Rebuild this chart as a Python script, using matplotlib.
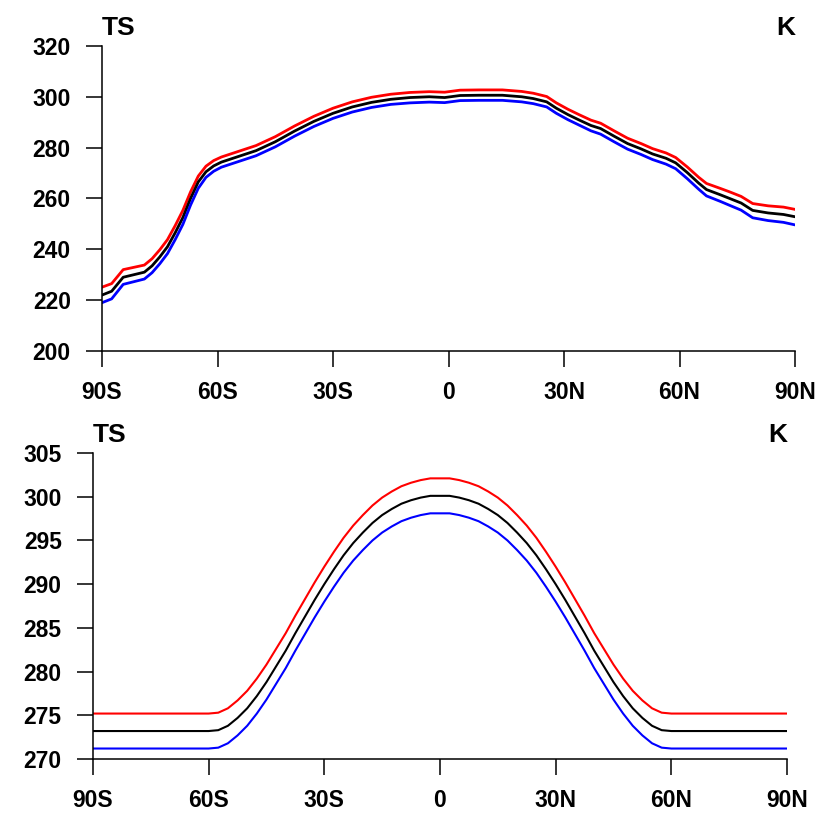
import matplotlib
matplotlib.use("Agg")
import matplotlib.pyplot as plt

plt.rcParams["font.family"] = ["Liberation Sans", "DejaVu Sans"]
plt.rcParams["font.weight"] = "bold"

# top panel: zonal mean surface temperature (K)
lat_top = [-90, -87.5, -84.5, -79, -77, -75, -73, -71, -69, -67, -65, -63, -61,
           -59, -55, -50, -45, -40, -35, -30, -25, -20, -15, -10, -5, -1, 3, 8,
           14, 19, 22, 25.5, 28, 31, 34, 37, 39.5, 43, 46.5, 50, 53, 56.5, 59,
           62, 65, 67, 70.5, 73, 76, 79, 83, 87, 90]
ts_mid_top = [222.0, 223.5, 229.0, 231.0, 233.5, 237.0, 241.0, 246.5, 252.5,
              260.0, 266.5, 270.5, 272.8, 274.3, 276.3, 278.8, 282.3, 286.5,
              290.3, 293.5, 296.0, 297.8, 299.0, 299.7, 300.0, 299.7, 300.5,
              300.6, 300.6, 300.0, 299.3, 298.0, 295.5, 293.0, 290.8, 288.7,
              287.5, 284.5, 281.6, 279.5, 277.5, 275.8, 274.0, 270.2, 266.0,
              263.5, 261.5, 260.0, 258.2, 255.3, 254.3, 253.7, 252.8]
ts_hi_top = [225.1, 226.5, 232.0, 233.8, 236.3, 239.8, 243.8, 249.3, 255.3,
             262.6, 268.8, 272.7, 274.9, 276.3, 278.3, 280.8, 284.3, 288.5,
             292.3, 295.5, 298.0, 299.8, 301.0, 301.7, 302.0, 301.8, 302.6,
             302.7, 302.7, 302.1, 301.4, 300.1, 297.6, 295.1, 292.9, 290.8,
             289.6, 286.6, 283.7, 281.6, 279.6, 277.9, 276.1, 272.4, 268.3,
             265.9, 264.0, 262.6, 260.8, 258.0, 257.1, 256.6, 255.7]
ts_lo_top = [219.0, 220.5, 226.2, 228.3, 230.8, 234.3, 238.3, 243.8, 249.8,
             257.4, 264.0, 268.3, 270.7, 272.3, 274.3, 276.8, 280.3, 284.5,
             288.3, 291.5, 294.0, 295.8, 297.0, 297.6, 297.9, 297.7, 298.5,
             298.6, 298.6, 298.0, 297.3, 296.0, 293.5, 291.0, 288.8, 286.6,
             285.3, 282.3, 279.4, 277.3, 275.3, 273.5, 271.7, 267.8, 263.6,
             261.0, 258.9, 257.3, 255.4, 252.4, 251.3, 250.6, 249.6]

# bottom panel: prescribed SST profile (K), every 2.5 degrees
lat_bot = [-90 + 2.5 * i for i in range(73)]
ts_mid_bot = [273.2, 273.2, 273.2, 273.2, 273.2, 273.2, 273.2, 273.2, 273.2,
              273.2, 273.2, 273.2, 273.2, 273.3, 273.8, 274.7, 275.8, 277.2,
              278.8, 280.6, 282.4, 284.4, 286.3, 288.2, 290.0, 291.7, 293.3,
              294.7, 295.9, 297.0, 297.9, 298.6, 299.2, 299.6, 299.9, 300.1,
              300.1,
              300.1, 299.9, 299.6, 299.2, 298.6, 297.9, 297.0, 295.9, 294.7,
              293.3, 291.7, 290.0, 288.2, 286.3, 284.4, 282.4, 280.6, 278.8,
              277.2, 275.8, 274.7, 273.8, 273.3, 273.2, 273.2, 273.2, 273.2,
              273.2, 273.2, 273.2, 273.2, 273.2, 273.2, 273.2, 273.2, 273.2]
ts_hi_bot = [275.2, 275.2, 275.2, 275.2, 275.2, 275.2, 275.2, 275.2, 275.2,
             275.2, 275.2, 275.2, 275.2, 275.3, 275.8, 276.7, 277.8, 279.2,
             280.8, 282.6, 284.4, 286.4, 288.3, 290.2, 292.0, 293.7, 295.3,
             296.7, 297.9, 299.0, 299.9, 300.6, 301.2, 301.6, 301.9, 302.1,
             302.1,
             302.1, 301.9, 301.6, 301.2, 300.6, 299.9, 299.0, 297.9, 296.7,
             295.3, 293.7, 292.0, 290.2, 288.3, 286.4, 284.4, 282.6, 280.8,
             279.2, 277.8, 276.7, 275.8, 275.3, 275.2, 275.2, 275.2, 275.2,
             275.2, 275.2, 275.2, 275.2, 275.2, 275.2, 275.2, 275.2, 275.2]
ts_lo_bot = [271.2, 271.2, 271.2, 271.2, 271.2, 271.2, 271.2, 271.2, 271.2,
             271.2, 271.2, 271.2, 271.2, 271.3, 271.8, 272.7, 273.8, 275.2,
             276.8, 278.6, 280.4, 282.4, 284.3, 286.2, 288.0, 289.7, 291.3,
             292.7, 293.9, 295.0, 295.9, 296.6, 297.2, 297.6, 297.9, 298.1,
             298.1,
             298.1, 297.9, 297.6, 297.2, 296.6, 295.9, 295.0, 293.9, 292.7,
             291.3, 289.7, 288.0, 286.2, 284.3, 282.4, 280.4, 278.6, 276.8,
             275.2, 273.8, 272.7, 271.8, 271.3, 271.2, 271.2, 271.2, 271.2,
             271.2, 271.2, 271.2, 271.2, 271.2, 271.2, 271.2, 271.2, 271.2]

lat_ticks = [-90, -60, -30, 0, 30, 60, 90]
lat_labels = ["90S", "60S", "30S", "0", "30N", "60N", "90N"]

fig = plt.figure(figsize=(8.39, 8.13), dpi=100)
ax1 = fig.add_axes([0.1216, 0.5683, 0.826, 0.3752])
ax2 = fig.add_axes([0.1108, 0.0664, 0.8272, 0.3764])


def style(ax, yticks):
    ax.set_xlim(-90, 90)
    ax.set_ylim(yticks[0], yticks[-1])
    ax.set_xticks(lat_ticks)
    ax.set_xticklabels(lat_labels)
    ax.set_yticks(yticks)
    for s in ["top", "right"]:
        ax.spines[s].set_visible(False)
    for s in ["left", "bottom"]:
        ax.spines[s].set_linewidth(1.1)
    ax.tick_params(direction="out", length=11.5, width=1.1, labelsize=16.5)
    ax.tick_params(axis="x", pad=10)
    ax.tick_params(axis="y", pad=11)
    for lab in ax.get_xticklabels() + ax.get_yticklabels():
        lab.set_fontweight("bold")
    ax.set_title("TS", loc="left", fontsize=19, fontweight="bold", pad=8)
    ax.set_title("K", loc="right", fontsize=19, fontweight="bold", pad=8)


ax1.plot(lat_top, ts_hi_top, color="#ff0000", lw=2.0, solid_joinstyle="round")
ax1.plot(lat_top, ts_mid_top, color="black", lw=2.0, solid_joinstyle="round")
ax1.plot(lat_top, ts_lo_top, color="#0000ff", lw=2.0, solid_joinstyle="round")
style(ax1, list(range(200, 321, 20)))

ax2.plot(lat_bot, ts_hi_bot, color="#ff0000", lw=1.5, solid_joinstyle="round")
ax2.plot(lat_bot, ts_mid_bot, color="black", lw=1.5, solid_joinstyle="round")
ax2.plot(lat_bot, ts_lo_bot, color="#0000ff", lw=1.5, solid_joinstyle="round")
style(ax2, list(range(270, 306, 5)))

plt.savefig("out.png", dpi=100)
